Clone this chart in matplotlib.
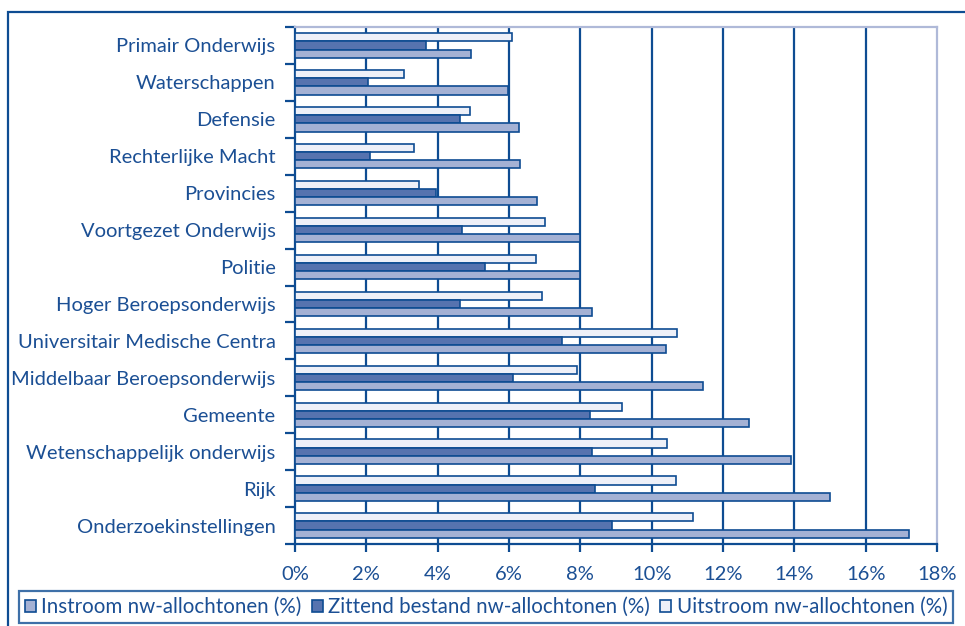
import matplotlib
matplotlib.use("Agg")
import numpy as np
import matplotlib.pyplot as plt
from matplotlib.patches import Rectangle, Patch

plt.rcParams['font.family'] = ['Lato', 'DejaVu Sans']

# data, top to bottom as in the reference
categories = ["Primair Onderwijs", "Waterschappen", "Defensie",
              "Rechterlijke Macht", "Provincies", "Voortgezet Onderwijs",
              "Politie", "Hoger Beroepsonderwijs",
              "Universitair Medische Centra", "Middelbaar Beroepsonderwijs",
              "Gemeente", "Wetenschappelijk onderwijs", "Rijk",
              "Onderzoekinstellingen"]
instroom = [4.93, 5.97, 6.28, 6.31, 6.79, 8.0, 8.0, 8.33,
            10.4, 11.43, 12.72, 13.92, 14.99, 17.22]
zittend = [3.67, 2.05, 4.63, 2.10, 3.95, 4.68, 5.33, 4.63,
           7.49, 6.10, 8.28, 8.33, 8.42, 8.89]
uitstroom = [6.08, 3.06, 4.90, 3.34, 3.48, 7.01, 6.75, 6.93,
             10.70, 7.90, 9.18, 10.43, 10.69, 11.17]
series_labels = ["Instroom nw-allochtonen (%)",
                 "Zittend bestand nw-allochtonen (%)",
                 "Uitstroom nw-allochtonen (%)"]
x_ticks = [0, 2, 4, 6, 8, 10, 12, 14, 16, 18]

DARK = "#0E4C92"
TEXT = "#1B4F94"
LIGHT_EDGE = "#AFB9D8"
C_IN = "#A4B1D4"
C_ZIT = "#5673AF"
C_UIT = "#EEF0F8"

fig = plt.figure(figsize=(9.65, 6.26), dpi=100)
W, H = 965, 626
ax = fig.add_axes([295 / W, 1 - 544 / H, (937 - 295) / W, (544 - 27) / H])

y = np.arange(len(categories))
bh = 0.22
ax.barh(y - bh, uitstroom, height=bh, color=C_UIT, edgecolor=DARK,
        lw=1.2, zorder=3)
ax.barh(y, zittend, height=bh, color=C_ZIT, edgecolor=DARK,
        lw=1.2, zorder=3)
ax.barh(y + bh, instroom, height=bh, color=C_IN, edgecolor=DARK,
        lw=1.2, zorder=3)

ax.set_xlim(0, 18)
ax.set_ylim(len(categories) - 0.5, -0.5)
ax.set_xticks(x_ticks)
ax.set_xticklabels([f"{t}%" for t in x_ticks])
for t in x_ticks[1:-1]:
    ax.axvline(t, color=DARK, lw=1.6, zorder=1)

ax.set_yticks(y)
ax.set_yticklabels(categories)
ax.set_yticks(np.arange(len(categories) + 1) - 0.5, minor=True)
ax.tick_params(axis='y', which='major', length=0, pad=14,
               labelsize=14.5, labelcolor=TEXT)
ax.tick_params(axis='y', which='minor', length=7, width=1.6, color=DARK,
               direction='out')
ax.tick_params(axis='x', length=6, width=1.6, color=DARK, pad=10,
               labelsize=14.5, labelcolor=TEXT)

for s in ['left', 'bottom']:
    ax.spines[s].set_color(DARK)
    ax.spines[s].set_linewidth(1.6)
for s in ['top', 'right']:
    ax.spines[s].set_color(LIGHT_EDGE)
    ax.spines[s].set_linewidth(1.6)

# outer frame
fig.patches.append(Rectangle((8 / W, -0.1), 1.2, 1 - 12 / H + 0.1,
                             transform=fig.transFigure, fill=False,
                             edgecolor=DARK, lw=1.6))

handles = [Patch(facecolor=c, edgecolor=DARK, lw=1.2)
           for c in [C_IN, C_ZIT, C_UIT]]
leg = fig.legend(handles, series_labels, loc='center',
                 bbox_to_anchor=(486 / W, 1 - 607 / H), ncol=3,
                 fontsize=14.8, frameon=True, fancybox=False,
                 handlelength=0.55, handleheight=0.55, handletextpad=0.25,
                 columnspacing=0.5, borderpad=0.3, borderaxespad=0)
leg.get_frame().set_edgecolor(DARK)
leg.get_frame().set_linewidth(1.6)
for txt in leg.get_texts():
    txt.set_color(TEXT)

fig.savefig("out.png", dpi=100)
